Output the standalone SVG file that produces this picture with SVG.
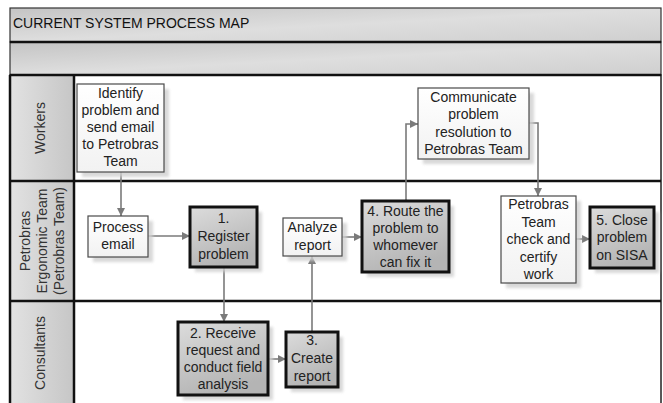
<svg xmlns="http://www.w3.org/2000/svg" width="663" height="403" viewBox="0 0 663 403">
<defs>
<linearGradient id="barG" x1="0" y1="0" x2="1" y2="1">
<stop offset="0" stop-color="#c4c4c4"/><stop offset="0.5" stop-color="#dedede"/><stop offset="1" stop-color="#cfcfcf"/>
</linearGradient>
<linearGradient id="hdrG" x1="0" y1="0" x2="1" y2="0">
<stop offset="0" stop-color="#e2e2e2"/><stop offset="1" stop-color="#c6c6c6"/>
</linearGradient>
<linearGradient id="keyG" x1="0" y1="0" x2="0.4" y2="1">
<stop offset="0" stop-color="#dcdcdc"/><stop offset="1" stop-color="#b4b4b4"/>
</linearGradient>
<linearGradient id="plainG" x1="0" y1="0" x2="0" y2="1">
<stop offset="0" stop-color="#ffffff"/><stop offset="1" stop-color="#f2f2f2"/>
</linearGradient>
<filter id="blur" x="-10%" y="-10%" width="130%" height="130%"><feGaussianBlur stdDeviation="1.5"/></filter>
<marker id="ah" viewBox="0 0 10 10" refX="10" refY="5" markerWidth="8" markerHeight="8" markerUnits="userSpaceOnUse" orient="auto">
<path d="M0,0 L10,5 L0,10 z" fill="#7a7a7a"/>
</marker>
</defs>
<style>
text{font-family:"Liberation Sans",Arial,sans-serif;font-size:14px;fill:#222;}
.t{text-anchor:middle;}
.title{font-size:14px;fill:#111;}
.lane{text-anchor:middle;font-size:14px;fill:#333;}
.box{fill:url(#plainG);stroke:#4a4a4a;stroke-width:1.2;}
.key{fill:url(#keyG);stroke:#111;stroke-width:3;}
.sh{fill:#cfcfcf;filter:url(#blur);opacity:0.8;}
.cn{fill:none;stroke:#7a7a7a;stroke-width:1.6;marker-end:url(#ah);}
.sep{stroke:#111;stroke-width:2.5;}
</style>

<g id="frame">
<rect x="10" y="8" width="651" height="34" fill="url(#barG)" stroke="#333" stroke-width="1.2"/>
<text class="title" x="13" y="28">CURRENT SYSTEM PROCESS MAP</text>
<rect x="10" y="42" width="651" height="33" fill="url(#barG)" stroke="#333" stroke-width="1.2"/>
<line x1="10" y1="42" x2="661" y2="42" class="sep" stroke-width="2"/>
<rect x="10" y="75" width="651" height="330" fill="#ffffff" stroke="#222" stroke-width="1.5"/>
</g>

<g id="lane-workers">
<rect x="10" y="75" width="64" height="106" fill="url(#hdrG)"/>
<text class="lane" transform="translate(45,128) rotate(-90)">Workers</text>
</g>
<g id="lane-petrobras">
<rect x="10" y="181" width="64" height="120" fill="url(#hdrG)"/>
<text class="lane" transform="translate(30,241) rotate(-90)">Petrobras</text>
<text class="lane" transform="translate(47,241) rotate(-90)">Ergonomic Team</text>
<text class="lane" transform="translate(64,241) rotate(-90)">(Petrobras Team)</text>
</g>
<g id="lane-consultants">
<rect x="10" y="301" width="64" height="104" fill="url(#hdrG)"/>
<text class="lane" transform="translate(45,353) rotate(-90)">Consultants</text>
</g>
<g id="lane-lines">
<line x1="10" y1="75" x2="661" y2="75" class="sep"/>
<line x1="10" y1="181" x2="661" y2="181" class="sep"/>
<line x1="10" y1="301" x2="661" y2="301" class="sep"/>
<line x1="74" y1="75" x2="74" y2="403" class="sep"/>
<line x1="10" y1="75" x2="10" y2="403" class="sep"/>
</g>

<g id="connectors">
<path class="cn" d="M121,172 V216"/>
<path class="cn" d="M148,236 H190"/>
<path class="cn" d="M224,267 V322"/>
<path class="cn" d="M268,359 H286"/>
<path class="cn" d="M312,332 V256"/>
<path class="cn" d="M342,237 H362"/>
<path class="cn" d="M406,201 V124 H418"/>
<path class="cn" d="M529,123 H538 V196"/>
<path class="cn" d="M576,239 H590"/>
</g>

<g id="n-identify">
<rect class="sh" x="82" y="89" width="87" height="88"/>
<rect class="box" x="77" y="84" width="87" height="88"/>
<text class="t" x="120.5" y="98">Identify</text>
<text class="t" x="120.5" y="115">problem and</text>
<text class="t" x="120.5" y="132">send email</text>
<text class="t" x="120.5" y="149">to Petrobras</text>
<text class="t" x="120.5" y="166">Team</text>
</g>

<g id="n-communicate">
<rect class="sh" x="423" y="93" width="111" height="71"/>
<rect class="box" x="418" y="88" width="111" height="71"/>
<text class="t" x="473.5" y="101.5">Communicate</text>
<text class="t" x="473.5" y="119">problem</text>
<text class="t" x="473.5" y="136.5">resolution to</text>
<text class="t" x="473.5" y="154">Petrobras Team</text>
</g>

<g id="n-process">
<rect class="sh" x="93" y="221" width="60" height="41"/>
<rect class="box" x="88" y="216" width="60" height="41"/>
<text class="t" x="118" y="232">Process</text>
<text class="t" x="118" y="249">email</text>
</g>

<g id="n-register">
<rect class="sh" x="195" y="212" width="67" height="60"/>
<rect class="key" x="190" y="207" width="67" height="60"/>
<text class="t" x="223.5" y="223">1.</text>
<text class="t" x="223.5" y="241">Register</text>
<text class="t" x="223.5" y="259">problem</text>
</g>

<g id="n-analyze">
<rect class="sh" x="288" y="223" width="59" height="38"/>
<rect class="box" x="283" y="218" width="59" height="38"/>
<text class="t" x="312.5" y="232">Analyze</text>
<text class="t" x="312.5" y="250">report</text>
</g>

<g id="n-route">
<rect class="sh" x="367" y="206" width="87" height="71"/>
<rect class="key" x="362" y="201" width="87" height="71"/>
<text class="t" x="405.5" y="215.5">4. Route the</text>
<text class="t" x="405.5" y="232.5">problem to</text>
<text class="t" x="405.5" y="249.5">whomever</text>
<text class="t" x="405.5" y="266.5">can fix it</text>
</g>

<g id="n-check">
<rect class="sh" x="506" y="201" width="75" height="87"/>
<rect class="box" x="501" y="196" width="75" height="87"/>
<text class="t" x="538.5" y="209">Petrobras</text>
<text class="t" x="538.5" y="226.5">Team</text>
<text class="t" x="538.5" y="244">check and</text>
<text class="t" x="538.5" y="261.5">certify</text>
<text class="t" x="538.5" y="279">work</text>
</g>

<g id="n-close">
<rect class="sh" x="595" y="212" width="64" height="61"/>
<rect class="key" x="590" y="207" width="64" height="61"/>
<text class="t" x="622" y="225">5. Close</text>
<text class="t" x="622" y="242">problem</text>
<text class="t" x="622" y="259.5">on SISA</text>
</g>

<g id="n-receive">
<rect class="sh" x="183" y="327" width="90" height="73"/>
<rect class="key" x="178" y="322" width="90" height="73"/>
<text class="t" x="223" y="337.5">2. Receive</text>
<text class="t" x="223" y="355">request and</text>
<text class="t" x="223" y="372">conduct field</text>
<text class="t" x="223" y="389">analysis</text>
</g>

<g id="n-create">
<rect class="sh" x="291" y="337" width="52" height="55"/>
<rect class="key" x="286" y="332" width="52" height="55"/>
<text class="t" x="312" y="345">3.</text>
<text class="t" x="312" y="363">Create</text>
<text class="t" x="312" y="381">report</text>
</g>
</svg>
